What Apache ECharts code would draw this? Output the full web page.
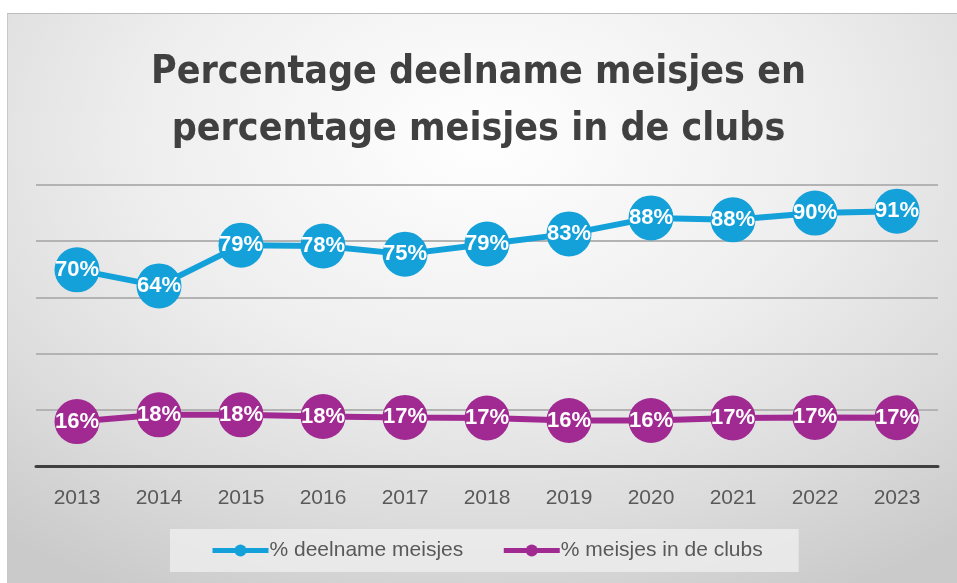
<!DOCTYPE html>
<html>
<head>
    <meta http-equiv="Content-Type" content="text/html; charset=utf-8" />
    <title>Percentage deelname meisjes</title>
    <style>
        html, body { margin: 0; padding: 0; background: #fff; }
        #frame {
            position: absolute; left: 7px; top: 13px; width: 950px; height: 570px;
            border-top: 1px solid #bdbdbd; border-left: 1px solid #c8c8c8;
            background: radial-gradient(ellipse 80% 90% at 50% 22%, #ffffff 0%, #eeeeee 45%, #dcdcdc 75%, #cacaca 100%);
        }
        #main { position: absolute; left: 0; top: 0; width: 957px; height: 583px; }
    </style>
</head>
<body>
    <div id="frame"></div>
    <div id="main"></div>
    <script src="https://cdn.jsdelivr.net/npm/echarts@6/dist/echarts.min.js"></script>
    <script type="text/javascript">
        var years = ['2013', '2014', '2015', '2016', '2017', '2018', '2019', '2020', '2021', '2022', '2023'];
        var deelname = [69.8, 64.1, 78.6, 78.3, 75.4, 79.0, 82.6, 88.3, 87.6, 90.0, 90.7];
        var clubs = [15.8, 18.2, 18.2, 17.6, 17.3, 17.1, 16.2, 16.2, 17.1, 17.3, 17.2];
        var seriesNames = ['% deelname meisjes', '% meisjes in de clubs'];
        var colors = ['#14A1D9', '#A02A92'];

        function makeSeries(name, data, color) {
            return {
                name: name,
                type: 'line',
                data: data,
                symbol: 'circle',
                symbolSize: 45,
                lineStyle: { width: 6, color: color },
                itemStyle: { color: color },
                label: {
                    show: true,
                    position: 'inside',
                    color: '#fff',
                    fontFamily: 'Liberation Sans',
                    fontWeight: 'bold',
                    fontSize: 22,
                    formatter: function (p) { return Math.round(p.value) + '%'; }
                }
            };
        }

        var myChart = echarts.init(document.getElementById('main'));
        var option = {
            animation: false,
            color: colors,
            title: {
                text: 'Percentage deelname meisjes en\npercentage meisjes in de clubs',
                left: 'center',
                top: 39,
                textStyle: {
                    fontFamily: 'DejaVu Sans Condensed',
                    fontWeight: 'bold',
                    fontSize: 39,
                    lineHeight: 57,
                    color: '#404040'
                }
            },
            legend: {
                data: seriesNames,
                left: 170,
                top: 529,
                padding: [11, 36, 11, 40],
                itemGap: 38,
                itemWidth: 56,
                itemHeight: 15,
                lineStyle: { width: 5 },
                backgroundColor: 'rgba(236,236,236,0.85)',
                textStyle: { fontFamily: 'Liberation Sans', fontSize: 21, color: '#595959', padding: [0, 0, 0, -4] }
            },
            grid: { left: 36, right: 19, top: 185, bottom: 117 },
            xAxis: {
                type: 'category',
                data: years,
                axisLine: { lineStyle: { color: '#404040', width: 3 } },
                axisTick: { show: false },
                axisLabel: { fontFamily: 'Liberation Sans', fontSize: 21, color: '#595959', margin: 22 }
            },
            yAxis: {
                type: 'value',
                min: 0,
                max: 100,
                interval: 20,
                axisLabel: { show: false },
                axisLine: { show: false },
                axisTick: { show: false },
                splitLine: { lineStyle: { color: '#b3b3b3', width: 2 } }
            },
            series: [
                makeSeries(seriesNames[0], deelname, colors[0]),
                makeSeries(seriesNames[1], clubs, colors[1])
            ]
        };
        myChart.setOption(option);
    </script>
</body>
</html>
